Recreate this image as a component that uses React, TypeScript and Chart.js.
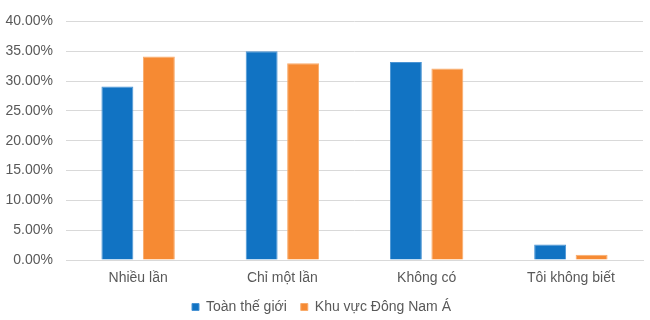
import React, { useEffect, useRef } from "react";
import { Chart, registerables } from "chart.js";

Chart.register(...registerables);

const categories = ["Nhiều lần", "Chỉ một lần", "Không có", "Tôi không biết"];
const worldValues = [29.1, 35.0, 33.2, 2.6];
const seaValues = [34.1, 33.0, 32.1, 0.9];
const seriesNames = ["Toàn thế giới", "Khu vực Đông Nam Á"];

const FONT = "'Liberation Sans', Arial, sans-serif";

export default function App() {
  const ref = useRef<HTMLCanvasElement | null>(null);
  useEffect(() => {
    if (!ref.current) return;
    const chart = new Chart(ref.current, {
      type: "bar",
      data: {
        labels: categories,
        datasets: [
          {
            label: seriesNames[0],
            data: worldValues,
            backgroundColor: "#1173c3",
            borderColor: "#4a94d4",
            borderWidth: 1,
            categoryPercentage: 0.575,
            barPercentage: 0.77,
          },
          {
            label: seriesNames[1],
            data: seaValues,
            backgroundColor: "#f68a33",
            borderColor: "#f9ab6b",
            borderWidth: 1,
            categoryPercentage: 0.575,
            barPercentage: 0.77,
          },
        ],
      },
      options: {
        animation: false,
        responsive: false,
        maintainAspectRatio: false,
        layout: { padding: { top: 14, right: 7, left: 0, bottom: -4 } },
        plugins: {
          title: { display: false },
          tooltip: { enabled: false },
          legend: {
            position: "bottom",
            labels: {
              boxWidth: 7,
              boxHeight: 7,
              padding: 14,
              color: "#595959",
              font: { family: FONT, size: 14 },
            },
          },
        },
        scales: {
          x: {
            grid: { display: false, drawTicks: false },
            border: { display: true, color: "#d9d9d9" },
            ticks: {
              color: "#595959",
              font: { family: FONT, size: 14 },
              padding: 10,
            },
            afterFit: (s: any) => {
              s.height = 26;
            },
          },
          y: {
            min: 0,
            max: 40,
            afterFit: (s: any) => {
              s.width = 66;
            },
            ticks: {
              stepSize: 5,
              color: "#595959",
              font: { family: FONT, size: 14 },
              padding: 13,
              callback: (v: any) => Number(v).toFixed(2) + "%",
            },
            grid: { color: "#d9d9d9", drawTicks: false },
            border: { display: false },
          },
        },
      },
    });
    return () => chart.destroy();
  }, []);
  return (
    <div style={{ position: "fixed", left: 0, top: 0, width: 650, height: 320, background: "#fff" }}>
      <canvas ref={ref} width={650} height={320} />
    </div>
  );
}
